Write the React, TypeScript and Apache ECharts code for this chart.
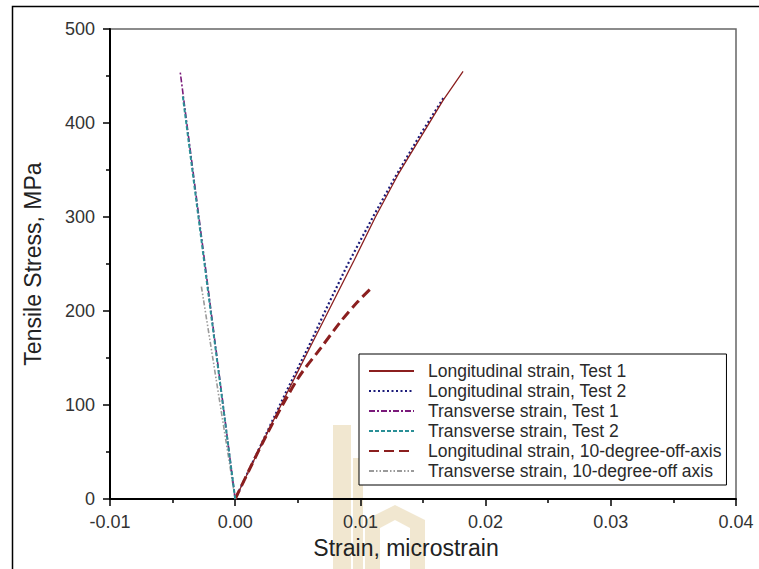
import React, { useEffect, useRef } from "react";
import * as echarts from "echarts";

const seriesNames = [
  "Longitudinal strain, Test 1",
  "Longitudinal strain, Test 2",
  "Transverse strain, Test 1",
  "Transverse strain, Test 2",
  "Longitudinal strain, 10-degree-off-axis",
  "Transverse strain, 10-degree-off axis",
];

const longTest1: [number, number][] = [
  [0, 0], [0.002, 55], [0.004, 109], [0.006, 162], [0.0076, 204], [0.0095, 254],
  [0.0112, 300], [0.013, 345], [0.015, 389], [0.0166, 424], [0.0182, 455],
];
const longTest2: [number, number][] = [
  [0, 0], [0.002, 56], [0.004, 112], [0.006, 166], [0.0074, 206], [0.009, 250],
  [0.011, 300], [0.0128, 343], [0.0148, 388], [0.0167, 428],
];
const transTest1: [number, number][] = [
  [0, 0], [-0.0022, 228], [-0.0044, 455],
];
const transTest2: [number, number][] = [
  [0, 0], [-0.0021, 214], [-0.0042, 430],
];
const long10: [number, number][] = [
  [0, 0], [0.0025, 68], [0.005, 128], [0.0068, 160], [0.0085, 190], [0.0098, 210], [0.011, 226],
];
const trans10: [number, number][] = [
  [0, 0], [-0.00135, 113], [-0.0027, 226],
];

const xTicks = { min: -0.01, max: 0.04, interval: 0.01 };
const yTicks = { min: 0, max: 500, interval: 100 };

export default function App() {
  const ref = useRef<HTMLDivElement>(null);
  useEffect(() => {
    if (!ref.current) return;
    const chart = echarts.init(ref.current, null, { renderer: "svg" });
    const font = "Liberation Sans, Arial, sans-serif";
    const wm = "rgba(214, 186, 120, 0.35)";
    chart.setOption({
      animation: false,
      backgroundColor: "#fff",
      textStyle: { fontFamily: font },
      grid: {
        left: 110, top: 29, right: 23, bottom: 70,
        show: true, borderColor: "#666", borderWidth: 1.5, backgroundColor: "transparent",
      },
      graphic: [
        { type: "rect", silent: true, z: -10, shape: { x: 12.5, y: 6.5, width: 800, height: 700 }, style: { fill: "none", stroke: "#000", lineWidth: 1.5 } },
        { type: "rect", silent: true, z: -5, shape: { x: 333, y: 425, width: 18, height: 144 }, style: { fill: wm } },
        { type: "rect", silent: true, z: -5, shape: { x: 353, y: 458, width: 10, height: 111 }, style: { fill: wm } },
        { type: "polygon", silent: true, z: -5, shape: { points: [[365, 520], [395, 505], [425, 520], [425, 569], [410, 569], [410, 528], [395, 520], [380, 528], [380, 569], [365, 569]] }, style: { fill: wm } },
      ],
      legend: {
        orient: "vertical",
        left: 359,
        top: 354,
        data: seriesNames,
        itemWidth: 45,
        itemHeight: 12,
        itemGap: 2,
        padding: [8, 5, 5, 9],
        borderColor: "#000",
        borderWidth: 1,
        backgroundColor: "#fff",
        itemStyle: { color: "transparent", borderColor: "transparent", borderWidth: 0 },
        textStyle: { fontSize: 17.5, color: "#2a2a2a", fontFamily: font, lineHeight: 17, padding: [0, 0, 0, 9] },
      },
      xAxis: {
        type: "value",
        min: xTicks.min, max: xTicks.max, interval: xTicks.interval,
        name: "Strain, microstrain",
        nameLocation: "middle",
        nameGap: 37,
        nameTextStyle: { fontSize: 23, color: "#222", fontFamily: font, padding: [0, 34, 0, 0] },
        axisLine: { onZero: false, lineStyle: { color: "#000", width: 2 } },
        axisTick: { show: true, inside: false, length: 7, lineStyle: { color: "#000", width: 1.5 } },
        minorTick: { show: true, splitNumber: 2, length: 4, lineStyle: { color: "#000", width: 1.5 } },
        splitLine: { show: false },
        axisLabel: { fontSize: 18, color: "#333", margin: 14, fontFamily: font, formatter: (v: number) => v.toFixed(2) },
      },
      yAxis: {
        type: "value",
        min: yTicks.min, max: yTicks.max, interval: yTicks.interval,
        name: "Tensile Stress, MPa",
        nameLocation: "middle",
        nameGap: 66,
        nameTextStyle: { fontSize: 23, color: "#222", fontFamily: font },
        axisLine: { onZero: false, lineStyle: { color: "#000", width: 2 } },
        axisTick: { show: true, inside: false, length: 7, lineStyle: { color: "#000", width: 1.5 } },
        minorTick: { show: true, splitNumber: 2, length: 4, lineStyle: { color: "#000", width: 1.5 } },
        splitLine: { show: false },
        axisLabel: { fontSize: 18, color: "#333", margin: 15, fontFamily: font },
      },
      series: [
        { name: seriesNames[0], type: "line", data: longTest1, symbol: "none", lineStyle: { color: "#8b1f1f", width: 1.3, type: "solid" }, itemStyle: { color: "#8b1f1f" }, z: 3 },
        { name: seriesNames[1], type: "line", data: longTest2, symbol: "none", lineStyle: { color: "#1c1c7a", width: 2.2, type: [2, 2.5] }, itemStyle: { color: "#1c1c7a" }, z: 2 },
        { name: seriesNames[2], type: "line", data: transTest1, symbol: "none", lineStyle: { color: "#7a1a7a", width: 1.6, type: [6, 2, 2, 2] }, itemStyle: { color: "#7a1a7a" }, z: 2 },
        { name: seriesNames[3], type: "line", data: transTest2, symbol: "none", lineStyle: { color: "#2a8f96", width: 2, type: [4, 2] }, itemStyle: { color: "#2a8f96" }, z: 3 },
        { name: seriesNames[4], type: "line", data: long10, symbol: "none", smooth: 0.3, lineStyle: { color: "#8b1f1f", width: 3, type: [10, 5] }, itemStyle: { color: "#8b1f1f" }, z: 2 },
        { name: seriesNames[5], type: "line", data: trans10, symbol: "none", lineStyle: { color: "#9a9a9a", width: 1.6, type: [5, 2, 1.5, 2, 1.5, 2] }, itemStyle: { color: "#9a9a9a" }, z: 1 },
      ],
    });
    return () => chart.dispose();
  }, []);
  return <div ref={ref} style={{ position: "absolute", left: 0, top: 0, width: 759, height: 569 }} />;
}
